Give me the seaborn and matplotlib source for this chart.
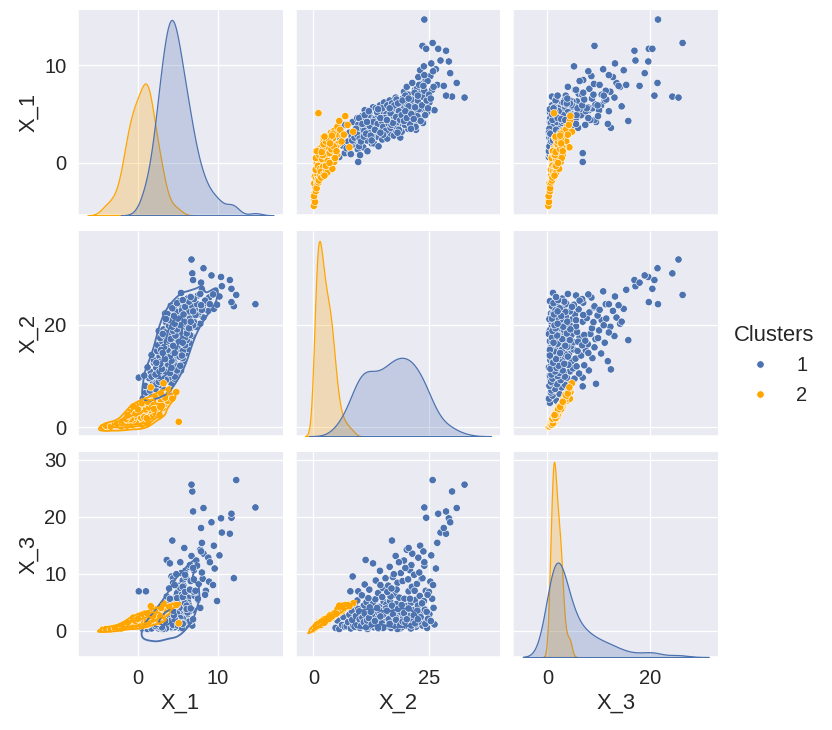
import pandas as pd
import matplotlib
matplotlib.use("Agg")
import matplotlib.pyplot as plt
from matplotlib.ticker import MultipleLocator
import seaborn as sns

# Points, one tuple per row: (X_1, X_2, X_3)
cluster_1 = [
    (1.2, 4.8, 0.5), (2.5, 5.2, 1.8), (0.6, 5.6, 0.3), (3.6, 5.9, 3.2),
    (1.8, 6.2, 1.0), (2.9, 6.5, 2.4), (1.0, 6.8, 0.7), (3.9, 6.9, 4.0),
    (0.1, 9.7, 6.9), (1.0, 8.0, 6.9), (1.5, 7.2, 0.8), (2.2, 7.5, 1.5),
    (3.1, 7.8, 2.8), (0.9, 8.1, 0.4), (2.7, 8.3, 3.5), (4.2, 8.5, 9.5),
    (1.9, 8.8, 1.2), (3.4, 9.0, 4.6), (2.4, 9.3, 2.1), (4.6, 9.5, 5.3),
    (1.4, 9.6, 0.6), (3.0, 9.8, 3.0),
    (0.8, 10.1, 0.5), (2.1, 10.2, 1.7), (3.5, 10.3, 3.6), (4.8, 10.5, 6.2),
    (2.8, 10.6, 2.2), (1.6, 10.8, 1.0), (3.9, 10.9, 4.4), (5.4, 11.1, 8.1),
    (2.4, 11.2, 0.9), (3.6, 11.3, 12.4), (4.3, 11.5, 5.0), (1.2, 11.7, 0.3),
    (3.7, 11.8, 2.7), (2.6, 12.0, 1.4), (5.1, 12.1, 7.2), (3.3, 12.3, 3.9),
    (4.6, 12.5, 2.0), (2.0, 12.6, 0.8), (4.0, 12.9, 11.8), (5.7, 12.9, 4.8),
    (2.0, 13.1, 0.6), (3.2, 13.2, 2.3), (4.5, 13.4, 5.5), (5.6, 13.5, 8.8),
    (3.8, 13.7, 3.1), (2.7, 13.8, 1.2), (4.9, 14.0, 6.6), (1.7, 14.1, 0.4),
    (4.1, 14.3, 4.2), (5.9, 14.4, 10.5), (3.4, 14.6, 1.9), (4.7, 14.7, 2.9),
    (2.4, 14.9, 0.9), (5.3, 15.0, 7.5), (3.9, 15.2, 5.1), (6.2, 15.3, 3.4),
    (3.0, 15.5, 1.5), (4.4, 15.6, 9.2), (5.0, 15.8, 4.6), (3.6, 15.9, 0.7),
    (2.5, 16.0, 0.8), (4.3, 16.1, 3.3), (5.7, 16.2, 7.9), (3.5, 16.4, 1.6),
    (6.4, 16.5, 11.2), (4.9, 16.6, 5.2), (4.3, 17.0, 15.8), (3.0, 16.8, 0.5),
    (5.2, 16.9, 2.6), (3.9, 17.1, 4.0), (6.0, 17.2, 9.4), (4.6, 17.3, 1.1),
    (2.8, 17.4, 2.0), (5.5, 17.6, 6.3), (4.1, 17.7, 3.0), (6.7, 17.8, 13.1),
    (3.3, 17.9, 0.9), (5.0, 18.0, 4.7), (4.4, 18.2, 8.4), (5.8, 18.3, 2.2),
    (3.7, 18.4, 1.4), (6.3, 18.6, 5.8), (4.8, 18.7, 3.6), (2.6, 18.8, 0.4),
    (5.4, 18.9, 10.1), (4.0, 19.0, 2.5),
    (3.2, 19.1, 0.6), (5.1, 19.2, 3.9), (6.6, 19.3, 8.7), (4.4, 19.5, 1.8),
    (7.3, 19.6, 12.3), (5.7, 19.7, 5.6), (3.8, 19.9, 0.9), (6.1, 20.0, 2.8),
    (4.9, 20.1, 4.3), (7.8, 20.2, 14.2), (5.4, 20.4, 1.2), (3.5, 20.5, 2.4),
    (6.8, 20.6, 6.9), (5.0, 20.8, 3.1), (7.0, 20.9, 10.6), (4.2, 21.0, 0.5),
    (6.3, 21.1, 4.9), (5.6, 21.3, 7.7), (8.2, 21.4, 13.5), (4.7, 21.5, 1.5),
    (6.9, 21.6, 3.6), (5.9, 21.8, 9.8), (3.9, 21.9, 2.0), (7.5, 22.0, 5.4),
    (5.3, 21.7, 0.8), (6.5, 21.2, 11.5),
    (3.4, 22.2, 0.7), (5.8, 22.3, 2.5), (7.6, 22.4, 8.2), (6.4, 22.6, 4.4),
    (8.8, 22.7, 12.8), (4.6, 22.9, 1.3), (7.1, 23.0, 6.1), (9.5, 23.1, 14.9),
    (5.5, 23.3, 3.2), (8.1, 23.4, 9.1), (6.8, 23.6, 0.9), (4.1, 23.7, 1.9),
    (9.9, 23.9, 5.2), (7.4, 24.0, 11.4), (6.0, 24.1, 3.7), (12.0, 23.6, 9.2),
    (8.5, 24.3, 7.0), (14.7, 24.0, 21.6), (11.7, 24.4, 19.8), (5.2, 24.6, 0.5),
    (6.2, 25.1, 2.9), (8.9, 25.3, 8.6), (10.2, 25.5, 13.2), (7.5, 25.7, 5.6),
    (12.3, 25.8, 26.4), (5.4, 26.2, 1.1), (9.6, 26.5, 10.9), (11.7, 27.0, 20.5),
    (8.0, 26.8, 15.4), (10.5, 27.5, 17.2),
    (11.5, 28.7, 17.0), (10.4, 29.3, 19.7), (6.8, 30.0, 24.4), (8.2, 31.0, 21.5),
    (6.7, 32.7, 25.6), (7.9, 28.2, 18.0), (9.2, 29.6, 19.0), (6.9, 28.7, 20.9),
    # denser core of the blue band
    (3.0, 9.4, 1.6), (3.6, 10.0, 2.4), (2.9, 10.4, 1.1), (4.1, 10.7, 3.2),
    (3.3, 11.0, 1.8), (4.4, 11.4, 2.9), (3.1, 11.9, 0.7), (3.8, 12.2, 4.1),
    (2.7, 12.7, 2.6), (4.2, 13.0, 1.5), (3.5, 13.6, 0.9), (4.0, 13.9, 2.1),
    (3.2, 14.2, 3.6), (4.3, 14.8, 1.3), (3.7, 15.1, 2.8), (4.6, 15.4, 0.6),
    (3.3, 15.7, 3.9), (4.0, 16.3, 2.0), (3.6, 16.7, 6.0), (4.5, 17.5, 1.7),
    (3.8, 17.8, 2.4), (4.2, 18.1, 0.8), (3.4, 18.5, 3.4), (4.7, 19.4, 2.2),
    (3.9, 19.8, 1.4), (4.5, 20.3, 3.0), (4.1, 20.7, 0.7), (5.2, 21.0, 2.6),
    (4.4, 21.4, 1.9), (3.7, 22.1, 1.1), (4.8, 22.5, 3.5), (5.5, 22.8, 1.6),
    (4.3, 23.2, 2.4), (5.9, 23.5, 4.8), (4.9, 24.2, 1.2), (6.4, 24.5, 3.3),
    (5.6, 24.8, 2.1), (7.0, 25.0, 6.8), (6.6, 25.4, 1.7), (7.8, 26.0, 4.0),
    (2.2, 8.6, 0.9), (2.8, 9.1, 2.5), (1.7, 9.9, 1.3), (3.9, 9.7, 3.8),
    (2.3, 11.6, 1.9), (4.9, 11.9, 5.7), (5.2, 13.8, 4.0), (5.6, 14.9, 5.9),
    (5.9, 16.0, 6.8), (6.1, 17.0, 4.4), (6.5, 18.0, 7.2), (6.2, 19.0, 3.2),
    (7.0, 20.5, 9.0), (7.2, 21.9, 7.0), (8.0, 22.9, 10.2), (8.4, 24.7, 6.3),
    (9.0, 24.0, 12.0), (9.4, 25.9, 8.0), (7.9, 23.8, 13.9), (6.9, 19.9, 11.0),
    (4.8, 17.4, 9.9), (5.3, 18.5, 12.0), (5.8, 20.6, 14.5), (3.9, 16.9, 7.4),
    (4.6, 14.5, 8.0), (5.1, 16.7, 1.0), (4.0, 20.9, 5.6), (3.5, 21.1, 0.4),
    (3.1, 18.2, 0.3), (2.9, 15.1, 0.5),
    (2.3, 8.4, 1.9), (2.6, 8.9, 0.7), (3.5, 9.2, 2.6), (2.9, 9.5, 1.0),
    (4.6, 9.9, 3.4), (2.5, 10.0, 2.0), (2.2, 10.3, 0.8), (4.0, 10.6, 2.3),
    (2.7, 10.9, 1.5), (4.9, 11.1, 3.0), (3.0, 11.4, 0.6), (4.2, 11.6, 1.8),
    (5.3, 12.0, 2.2), (2.8, 12.4, 3.3), (2.3, 12.6, 1.1),
    (4.1, 17.2, 2.9), (5.9, 17.5, 0.9), (4.7, 17.9, 1.9), (6.1, 18.3, 3.8),
    (4.4, 18.8, 1.0), (4.9, 19.1, 4.5), (6.4, 19.3, 1.6), (4.3, 19.6, 3.1),
    (5.3, 19.9, 1.4), (4.6, 20.2, 2.0), (6.6, 20.6, 3.9), (5.0, 21.2, 0.9),
    (4.5, 21.7, 2.7), (5.7, 22.0, 1.3), (6.9, 22.6, 2.0),
    (3.4, 13.3, 1.7), (5.5, 14.0, 0.5), (3.1, 14.5, 2.5), (4.4, 15.9, 3.5),
    (5.6, 16.5, 1.2),
]

cluster_2 = [
    (-4.4, 0.1, 0.2), (-3.8, 0.2, 0.3), (-3.1, 0.3, 0.4), (-4.0, 0.35, 0.3),
    (-2.5, 0.4, 0.5), (-1.8, 0.45, 0.6), (-3.4, 0.15, 0.25), (-2.8, 0.5, 0.45),
    (-1.4, 0.3, 0.7), (-2.1, 0.2, 0.4),
    (-2.9, 0.55, 0.5), (-1.6, 0.6, 0.8), (-0.5, 0.65, 0.9), (0.4, 0.7, 1.1),
    (-2.2, 0.75, 0.6), (-1.0, 0.8, 0.9), (0.9, 0.85, 1.3), (-0.2, 0.9, 1.0),
    (-1.3, 0.95, 0.7), (0.2, 1.0, 1.2), (-2.6, 0.7, 0.55), (-0.8, 0.6, 1.0),
    (0.6, 0.9, 0.8), (-1.9, 0.85, 0.75), (5.1, 1.1, 1.3), (0.0, 0.75, 1.1),
    (-1.7, 1.05, 0.8), (-0.6, 1.1, 1.1), (0.5, 1.15, 1.4), (1.3, 1.2, 1.6),
    (-1.1, 1.25, 0.9), (0.1, 1.3, 1.2), (0.8, 1.35, 1.0), (-0.3, 1.4, 1.5),
    (1.5, 1.45, 1.3), (-2.0, 1.1, 0.7), (0.3, 1.2, 0.95), (-0.9, 1.35, 1.25),
    (1.0, 1.05, 1.15), (-0.1, 1.5, 1.35),
    (-0.7, 1.6, 1.2), (0.6, 1.7, 1.5), (1.6, 1.8, 1.8), (-0.2, 1.9, 1.4),
    (1.1, 2.0, 1.7), (2.1, 2.1, 2.0), (0.2, 2.2, 1.6), (1.4, 2.3, 1.9),
    (-0.9, 2.0, 1.3), (0.9, 2.4, 2.1), (1.9, 2.5, 1.8), (0.4, 1.65, 1.3),
    (0.1, 2.6, 1.7), (1.2, 2.8, 2.0), (2.4, 2.9, 2.3), (0.7, 3.0, 1.9),
    (1.8, 3.2, 2.2), (2.8, 3.3, 2.5), (0.4, 3.4, 2.0), (1.5, 3.6, 2.4),
    (2.2, 3.7, 2.7), (3.1, 3.8, 2.9), (1.0, 3.9, 2.3), (2.6, 3.5, 2.6),
    (1.1, 4.1, 2.5), (2.3, 4.3, 2.8), (3.3, 4.5, 3.2), (1.7, 4.8, 2.9),
    (2.9, 5.0, 3.3), (3.7, 5.2, 3.8), (2.0, 5.5, 3.1), (3.4, 5.8, 3.6),
    (4.3, 5.6, 4.4),
    (4.8, 6.9, 4.5), (2.7, 6.3, 3.5), (3.9, 7.4, 4.2), (3.2, 8.6, 4.8),
    # denser core of the orange group
    (-0.4, 0.8, 1.0), (-1.6, 1.0, 1.2), (1.2, 1.6, 1.5), (-0.6, 1.3, 1.1),
    (-1.4, 1.5, 1.3), (1.0, 2.2, 1.7), (-1.2, 0.9, 0.8), (0.5, 2.7, 1.9),
    (1.4, 3.1, 2.2), (-0.3, 2.4, 1.6), (0.9, 1.9, 1.4), (1.7, 2.6, 2.0),
    (0.0, 1.7, 1.2), (-0.8, 1.8, 1.3), (1.3, 3.4, 2.4), (0.6, 3.7, 2.5),
    (2.0, 3.0, 2.4), (-0.5, 2.9, 1.8), (-1.7, 0.95, 0.9), (1.8, 4.0, 2.7),
    (0.4, 4.4, 2.6), (1.5, 4.6, 3.0), (-0.1, 3.6, 2.1), (2.5, 4.2, 3.0),
    (0.8, 5.1, 3.0), (1.9, 5.3, 3.4), (-1.0, 2.6, 1.5), (2.2, 6.1, 3.7),
    (1.2, 0.6, 1.0), (-1.5, 1.5, 1.0), (0.1, 4.0, 2.4), (2.9, 6.6, 4.0),
    (1.6, 7.8, 4.3), (-0.7, 0.5, 0.7), (0.5, 0.55, 0.85),
    (-0.3, 1.0, 1.0), (0.8, 1.25, 1.3), (1.4, 2.0, 1.6), (-0.6, 1.5, 1.2),
    (2.6, 2.1, 1.5), (1.1, 2.9, 2.0), (-1.8, 1.2, 0.9), (-1.3, 1.4, 1.25),
    (1.3, 2.4, 1.8), (2.5, 2.3, 1.6), (1.6, 3.3, 2.1), (-0.4, 2.1, 1.45),
    (0.9, 3.2, 2.2), (1.2, 0.8, 1.1), (-0.9, 1.6, 1.1),
    (-1.5, 1.7, 1.0), (-1.2, 2.2, 1.3), (-0.8, 2.8, 1.6), (-0.5, 3.3, 1.9),
    (-0.2, 3.9, 2.2), (0.1, 4.5, 2.6), (0.4, 1.9, 1.7), (0.7, 2.5, 1.9),
    (1.0, 3.5, 2.3), (1.3, 4.2, 2.7), (1.6, 4.9, 3.1), (1.9, 2.2, 2.0),
    (2.2, 2.7, 2.1), (2.4, 3.4, 2.6), (-1.0, 3.0, 1.7), (-0.6, 4.1, 2.3),
    (0.2, 3.1, 2.0), (0.5, 4.7, 2.8), (0.8, 2.0, 1.5), (1.1, 1.8, 1.6),
    (1.4, 3.9, 2.5), (1.7, 4.4, 2.9), (2.0, 3.6, 2.7), (-0.3, 2.7, 1.7),
    (0.0, 3.5, 2.1), (2.7, 2.4, 1.6), (3.0, 4.2, 2.6), (2.8, 4.0, 2.5),
    (1.2, 5.0, 3.0), (-1.3, 2.4, 1.4),
]

variables = ["X_1", "X_2", "X_3"]
cluster_labels = [1, 2]
cluster_colors = ["#4c72b0", "orange"]

# tick spacing per variable: (as row / y axis, as column / x axis)
tick_steps = {"X_1": (10, 10), "X_2": (20, 25), "X_3": (10, 20)}

df1 = pd.DataFrame(cluster_1, columns=variables)
df1["Clusters"] = cluster_labels[0]
df2 = pd.DataFrame(cluster_2, columns=variables)
df2["Clusters"] = cluster_labels[1]
df = pd.concat([df1, df2], ignore_index=True)

sns.set_theme(font_scale=1.5, font="Liberation Sans")

g = sns.pairplot(df, hue="Clusters", vars=variables,
                 palette=dict(zip(cluster_labels, cluster_colors)), height=2.5)
g.map_lower(sns.kdeplot, levels=4, thresh=0.08, bw_adjust=0.8)

for i, var in enumerate(variables):
    g.axes[i, 0].yaxis.set_major_locator(MultipleLocator(tick_steps[var][0]))
    g.axes[-1, i].xaxis.set_major_locator(MultipleLocator(tick_steps[var][1]))

# match the 832x730 output
g.figure.set_dpi(88)
g.figure.set_size_inches(832 / 88, 730 / 88)
g.figure.subplots_adjust(left=0.094, right=0.863, top=0.986, bottom=0.1,
                         wspace=0.064, hspace=0.078)
sns.move_legend(g, "center right", bbox_to_anchor=(1.0, 0.5))

g.figure.savefig("out.png", dpi=88)
